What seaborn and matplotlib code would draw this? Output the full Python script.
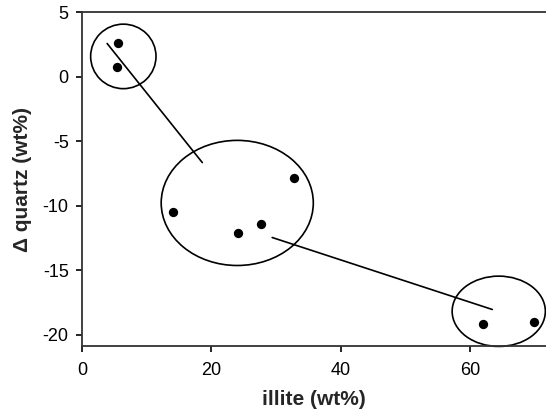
import numpy as np
import pandas as pd
import matplotlib
matplotlib.use("Agg")
import matplotlib.pyplot as plt
from matplotlib.patches import Ellipse
import seaborn as sns

# measured samples
illite = [5.5, 5.4, 14.0, 24.1, 27.6, 32.8, 62.0, 69.9]
d_quartz = [2.6, 0.7, -10.5, -12.1, -11.4, -7.9, -19.2, -19.05]

# group ellipses (centre x, centre y, width, height) in data units
ell_x = [6.4, 24.0, 64.4]
ell_y = [1.56, -9.8, -18.2]
ell_w = [10.1, 23.5, 14.4]
ell_h = [5.0, 9.7, 5.45]

# trend segments between groups
seg1_x = [3.9, 18.6]
seg1_y = [2.56, -6.67]
seg2_x = [29.4, 63.4]
seg2_y = [-12.48, -18.06]

sns.set_style("ticks")
plt.rcParams["font.family"] = ["Liberation Sans", "DejaVu Sans"]
plt.rcParams["axes.unicode_minus"] = False

fig = plt.figure(figsize=(5.46, 4.15), dpi=100)
ax = fig.add_axes([0.150, 0.166, 0.85, 0.805])

df = pd.DataFrame({"illite": illite, "dq": d_quartz})
sns.scatterplot(data=df, x="illite", y="dq", color="black", s=45,
                edgecolor="black", linewidth=0, ax=ax, zorder=3)

for sx, sy in [(seg1_x, seg1_y), (seg2_x, seg2_y)]:
    sns.lineplot(x=sx, y=sy, color="black", linewidth=1.2, ax=ax,
                 estimator=None, sort=False)

for cx, cy, w, h in zip(ell_x, ell_y, ell_w, ell_h):
    ax.add_patch(Ellipse((cx, cy), w, h, fill=False, edgecolor="black",
                         linewidth=1.2, clip_on=False))

ax.set_xlim(0, 71.7)
ax.set_ylim(-20.9, 5)
ax.set_xticks([0, 20, 40, 60])
ax.set_yticks([5, 0, -5, -10, -15, -20])
ax.tick_params(direction="out", length=4.5, width=1.2, labelsize=13,
               colors="black")
ax.tick_params(axis="x", pad=7)
ax.tick_params(axis="y", pad=5)

for side in ["left", "bottom", "top"]:
    ax.spines[side].set_visible(True)
    ax.spines[side].set_linewidth(1.3)
    ax.spines[side].set_color("#333333")
ax.spines["right"].set_visible(False)

ax.set_xlabel("illite (wt%)", fontsize=15, fontweight="bold", labelpad=8)
ax.set_ylabel("\u0394 quartz (wt%)", fontsize=15, fontweight="bold", labelpad=8)

fig.savefig("out.png", dpi=100)
